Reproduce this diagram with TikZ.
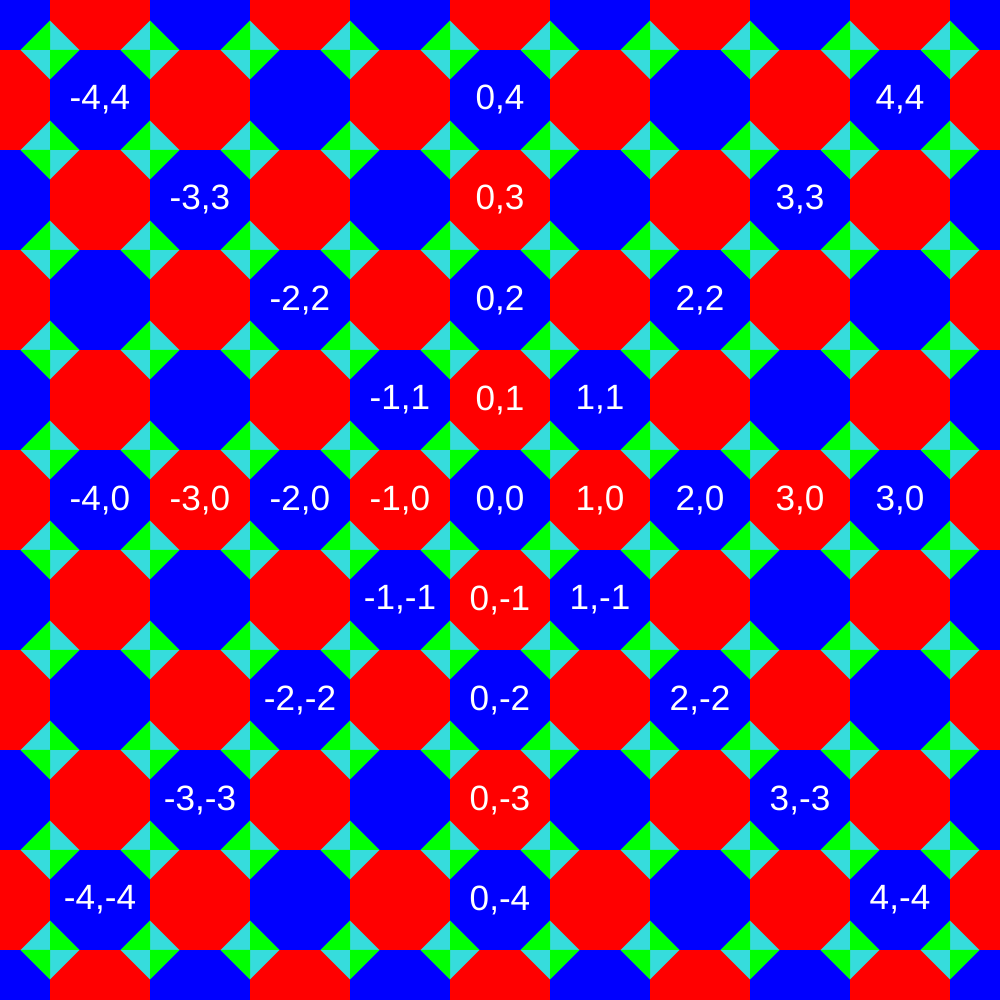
\documentclass[tikz,border=0pt]{standalone}
\usepackage{fontspec}
\setmainfont{Liberation Sans}
\usepackage{tikz}
\definecolor{octred}  {HTML}{FF0000}
\definecolor{octblue} {HTML}{0000FF}
\definecolor{gapgreen}{HTML}{00FF00}
\definecolor{gapcyan} {HTML}{36DCDC}

\begin{document}
\begin{tikzpicture}[
    cell/.style={line width=0pt},
    lbl/.style={text=white, inner sep=0pt, font=\fontsize{10}{12}\selectfont}]
  \useasboundingbox (0,0) rectangle (10,10);
  \clip (0,0) rectangle (10,10);
  % octagons: square cells, corners covered by the small squares below
  \foreach \x in {0,...,10}
    \foreach \y in {0,...,10}
    {\ifodd\numexpr\x+\y\relax \def\oc{octred}\else\def\oc{octblue}\fi
     \fill[\oc] (\x-0.5,\y-0.5) rectangle (\x+0.5,\y+0.5);}
  % small squares, four triangles each
  \def\s{0.2929}
  \foreach \p in {0,...,9}
    \foreach \q in {0,...,9}
    {\coordinate (g) at (\p+0.5,\q+0.5);
     \fill[gapcyan] (g) ++(-\s,0) -- ++(\s,\s) -- ++(\s,-\s) -- ++(-\s,-\s) -- cycle;
     \ifodd\numexpr\p+\q\relax
       \fill[gapgreen] (g) -- ++(-\s,0) -- ++(\s,\s) -- cycle;
       \fill[gapgreen] (g) -- ++(\s,0) -- ++(-\s,-\s) -- cycle;
     \else
       \fill[gapgreen] (g) -- ++(\s,0) -- ++(-\s,\s) -- cycle;
       \fill[gapgreen] (g) -- ++(-\s,0) -- ++(\s,-\s) -- cycle;
     \fi}
  % labels
  \foreach \i/\j/\a [count=\k] in {-4/4/-4, 0/4/0, 4/4/4,
      -3/3/-3, 0/3/0, 3/3/3, -2/2/-2, 0/2/0, 2/2/2,
      -1/1/-1, 0/1/0, 1/1/1,
      -4/0/-4, -3/0/-3, -2/0/-2, -1/0/-1, 0/0/0, 1/0/1, 2/0/2, 3/0/3, 4/0/3,
      -1/-1/-1, 0/-1/0, 1/-1/1, -2/-2/-2, 0/-2/0, 2/-2/2,
      -3/-3/-3, 0/-3/0, 3/-3/3, -4/-4/-4, 0/-4/0, 4/-4/4}
    \node[lbl] (lbl\k) at ({5+\i},{5+\j}) {\a,\j};
\end{tikzpicture}
\end{document}
